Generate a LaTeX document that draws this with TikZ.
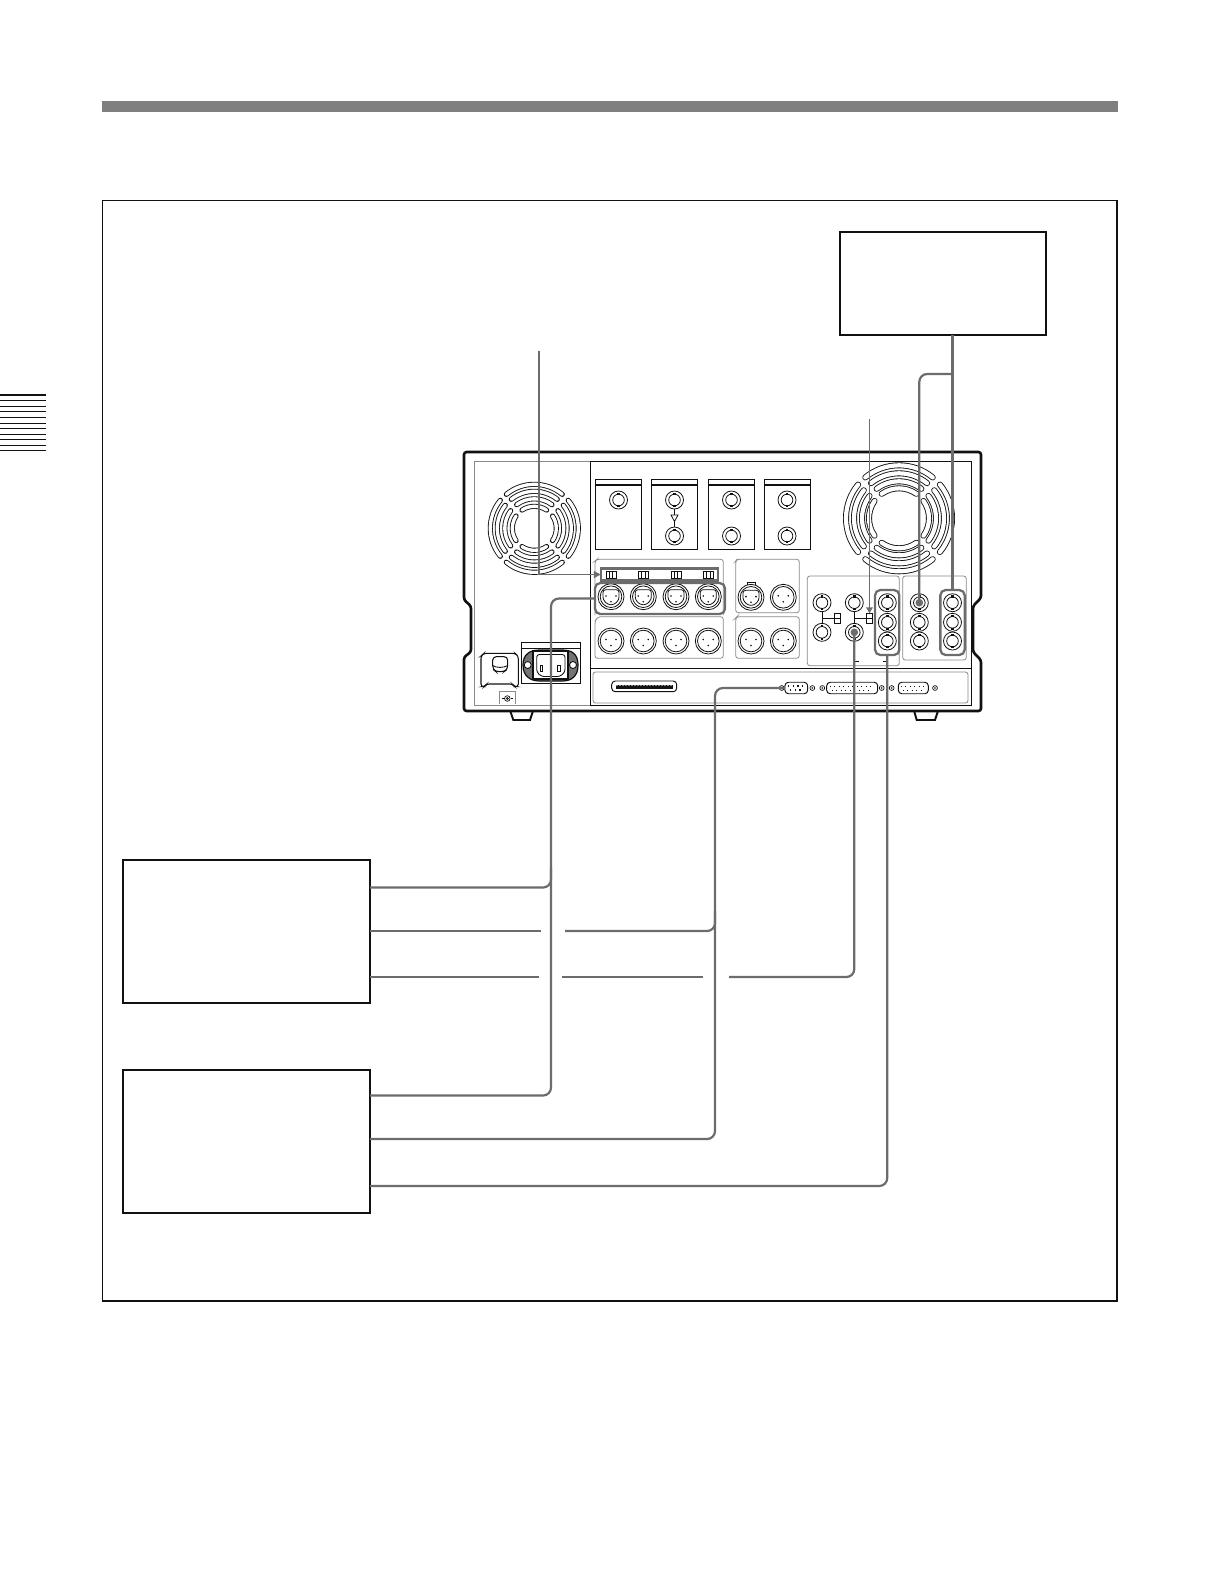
\documentclass[tikz,border=0pt]{standalone}
\usetikzlibrary{arrows.meta,positioning,calc}
\definecolor{ink}{HTML}{111111}
\definecolor{cableg}{HTML}{6C6C6C}
\definecolor{barg}{HTML}{7F7F7F}
\definecolor{panelg}{HTML}{8A8A8A}
\tikzset{
  devbox/.style={rectangle,draw=ink,line width=1.1pt,fill=white,inner sep=0pt,outer sep=0pt},
  cable/.style={draw=cableg,line width=1.25pt,rounded corners=4.5pt},
  leader/.style={draw=cableg,line width=0.85pt},
  markbox/.style={rectangle,rounded corners=3pt,draw=cableg,line width=1.3pt,inner sep=0pt,outer sep=0pt},
  panel/.style={draw=panelg,line width=0.45pt,rounded corners=1.5pt},
  bay/.style={draw=ink,line width=0.6pt,fill=white},
  part/.style={draw=ink,line width=0.45pt,fill=white},
  dsub/.style={rectangle,rounded corners=2pt,draw=ink,line width=0.55pt,fill=white,inner sep=0pt,outer sep=0pt,minimum height=0.23cm},
  slideswitch/.style={rectangle,draw=ink,line width=0.5pt,fill=white,inner sep=0pt,outer sep=0pt,minimum width=0.125cm,minimum height=0.2cm},
  bnc/.pic={
    \draw[part] (0,0) circle (9);
    \draw[part] (0,0) circle (5.8);
    \fill[ink] (-1.2,-7.4) rectangle (1.2,-5.2);
    \fill[ink] (-1.2,5.2) rectangle (1.2,7.4);
  },
  bncdark/.pic={
    \draw[part] (0,0) circle (9);
    \draw[part] (0,0) circle (5.8);
    \fill[cableg] (0,0) circle (3.8);
    \fill[ink] (-1.2,-7.4) rectangle (1.2,-5.2);
    \fill[ink] (-1.2,5.2) rectangle (1.2,7.4);
  },
  xlrmale/.pic={
    \draw[part] (0,0) circle (13);
    \draw[part] (0,0) circle (10.8);
    \fill[ink] (-5,-1.5) circle (0.9) (5,-1.5) circle (0.9) (0,4.5) circle (0.9);
  },
  xlrfemale/.pic={
    \draw[part] (-4,-11) rectangle (4,-15);
    \draw[part] (0,0) circle (13);
    \draw[part] (0,0) circle (10.8);
    \draw[part,rounded corners=1.5pt] (-8,-7) -- (8,-7) -- (8,3) -- (3,8) -- (-3,8) -- (-8,3) -- cycle;
    \fill[ink] (-5,-0.7) circle (0.9) (5,-0.7) circle (0.9) (0,5) circle (0.9);
  },
  screw/.pic={
    \draw[ink,line width=0.4pt] (0,0) circle (2.4);
    \fill[ink] (0,0) circle (0.9);
  }
}
\newcommand{\fanslots}[6]{
  \foreach \rr in {#3}{
    \pgfmathsetmacro{\hh}{45-#6/\rr}
    \foreach \aa in {0,90,180,270}{
      \draw[ink,line width=#4,line cap=round] ($(#1,#2)+(\aa-\hh:\rr)$) arc[start angle=\aa-\hh,end angle=\aa+\hh,radius=\rr];
      \draw[white,line width=#5,line cap=round] ($(#1,#2)+(\aa-\hh:\rr)$) arc[start angle=\aa-\hh,end angle=\aa+\hh,radius=\rr];
    }
  }
}
\begin{document}
\begin{tikzpicture}[x=0.02cm,y=-0.02cm]
    \useasboundingbox (0,0) rectangle (1218,1586);
    \fill[white] (0,0) rectangle (1218,1586);
    \fill[barg] (102,101) rectangle (1118,112);
    \draw[ink,line width=0.6pt] (102.5,200.5) rectangle (1117,1301);
    \foreach \yy in {395,400.3,406.3,411.3,417.3,423.3,428.3,434.3,439.3,445.3,450.3}
      \draw[ink,line width=0.8pt] (0,\yy) -- (46,\yy);

    \node[devbox,minimum width=4.12cm,minimum height=2.06cm] (monitor) at (943,283.5) {};
    \node[devbox,minimum width=4.94cm,minimum height=2.86cm] (vtrone) at (246.5,931.5) {};
    \node[devbox,minimum width=4.94cm,minimum height=2.86cm] (vtrtwo) at (246.5,1141.5) {};

    \draw[ink,line width=1.1pt,fill=white] (509.3,708) -- (513.3,720) -- (530,720) -- (534,708) -- cycle;
    \draw[ink,line width=1.1pt,fill=white] (913.3,708) -- (916.7,720) -- (935,720) -- (939,708) -- cycle;
    \draw[ink,line width=1.5pt,fill=white,rounded corners=1.5pt] (464,452) -- (981,452) -- (981,598) -- (973,606) -- (973,652) -- (981,660) -- (981,711) -- (464,711) -- (464,657) -- (471,652) -- (471,606) -- (464,600) -- cycle;
    \draw[panelg,line width=0.5pt] (474,461) rectangle (590,705);
    \draw[ink,line width=0.55pt] (590,461) -- (971,461) -- (971,705) -- (590,705) -- cycle;
    \draw[ink,line width=0.55pt] (590,668) -- (971,668);
    \draw[panel] (593,672) rectangle (968,703);

    \fanslots{534.3}{528.3}{44,37,29.5,22}{2.9pt}{1.9pt}{240}
    \fanslots{899}{518.3}{53,45,37,30}{3.4pt}{2.4pt}{290}

    \draw[bay] (595.3,479.3) rectangle (641.7,549.3);
    \draw[bay] (651.3,479.3) rectangle (697.7,549.3);
    \draw[bay] (708.3,479.3) rectangle (754.3,549.3);
    \draw[bay] (764.3,479.3) rectangle (810.7,549.3);
    \foreach \xx in {595.3,651.3,708.3,764.3}
      \draw[ink,line width=0.6pt] (\xx,485) -- ++(46.4,0);
    \foreach \xx in {618.5,674.5,731.5,787}
      \pic at (\xx,500) {bnc};
    \foreach \xx in {674.5,731.5,787}
      \pic at (\xx,536) {bnc};
    \draw[ink,line width=0.45pt] (674.5,509) -- (674.5,515) (674.5,521) -- (674.5,527);
    \draw[ink,line width=0.45pt,fill=white] (671,515) -- (678,515) -- (674.5,521.5) -- cycle;

    \draw[panel] (595,615) -- (595,561) -- (597,559.3) -- (723.3,559.3) -- (723.3,615);
    \draw[panel] (595,658.3) -- (595,621) -- (598,616.7) -- (723.3,616.7) -- (723.3,658.3) -- cycle;
    \draw[panel] (735.7,612.7) -- (735.7,561) -- (737,559.3) -- (799.3,559.3) -- (799.3,612.7) -- cycle;
    \draw[panel] (735.7,658.3) -- (735.7,618) -- (737,616.7) -- (799.3,616.7) -- (799.3,658.3) -- cycle;
    \foreach \xx in {611,643.3,676,708.3}{
      \pic at (\xx,596.7) {xlrfemale};
      \pic at (\xx,641) {xlrmale};
      \draw[part] (\xx-5,571.5) rectangle (\xx+5,578.3);
      \draw[ink,line width=0.4pt] (\xx-1.7,571.5) -- (\xx-1.7,578.3) (\xx+1.7,571.5) -- (\xx+1.7,578.3);
    }
    \pic at (751,597.3) {xlrfemale};
    \pic at (783.3,597.3) {xlrmale};
    \pic at (751,641) {xlrmale};
    \pic at (783.3,641) {xlrmale};

    \draw[panel] (807.3,576) rectangle (899.3,665.7);
    \draw[panel] (902.7,576) rectangle (966.3,660);
    \draw[ink,line width=0.45pt] (822,602.7) -- (822,632.3) (822,618.3) -- (835,618.3);
    \draw[ink,line width=0.45pt] (854.3,602.7) -- (854.3,632.3) (854.3,618.3) -- (867,618.3);
    \node[slideswitch] (termone) at (837.7,618.3) {};
    \node[slideswitch] (termtwo) at (869.5,618.3) {};
    \draw[ink,line width=0.4pt] (termone.west) -- (termone.east) (termtwo.west) -- (termtwo.east);
    \foreach \yy in {602.7,632.3}
      \pic at (822,\yy) {bnc};
    \pic at (854.3,602.7) {bnc};
    \pic at (854.3,632.3) {bncdark};
    \foreach \xx in {887.3,952.5}
      \foreach \yy in {602.7,622.3,641}
        \pic at (\xx,\yy) {bnc};
    \pic at (919.3,602.7) {bncdark};
    \pic at (919.3,622.3) {bnc};
    \pic at (919.3,641) {bnc};
    \draw[ink,line width=0.6pt] (854.3,655) -- (854.3,661.7) -- (859,661.7);
    \draw[ink,line width=0.6pt] (887.3,655) -- (887.3,661.7) -- (882.5,661.7);

    \draw[ink,line width=0.55pt,fill=white,rounded corners=2pt] (611.7,681) rectangle (676.7,691.7);
    \fill[ink] (616,684.5) rectangle (673,688.5);
    \foreach \xx in {617,620,...,671}
      \fill[white] (\xx,685.4) circle (0.6);
    \node[dsub,minimum width=0.454cm] (dnine) at (796.3,688) {};
    \node[dsub,minimum width=1.02cm] (dtwentyfive) at (852.2,688) {};
    \node[dsub,minimum width=0.6cm] (dfifteen) at (913.3,688) {};
    \draw[ink,line width=0.7pt,dotted] (788,686) -- (805,686) (790,690) -- (803,690);
    \draw[ink,line width=0.55pt,dotted] (830,686) -- (874,686) (832,690) -- (872,690);
    \draw[ink,line width=0.55pt,dotted] (901,686) -- (925,686) (903,690) -- (923,690);
    \foreach \xx in {781.7,812.3,822.3,881.7,891.7,935}
      \pic at (\xx,688) {screw};

    \draw[ink,line width=0.7pt,fill=white] (521.3,642.3) rectangle (580.7,683.3);
    \draw[ink,line width=0.7pt] (521.3,648.3) -- (580.7,648.3);
    \draw[ink,line width=0.7pt,fill=black!55] (523,665) .. controls (523,654) and (530,650) .. (540,650) -- (562,650) .. controls (572,650) and (578,654) .. (578,665) .. controls (578,676) and (572,681) .. (562,681) -- (540,681) .. controls (530,681) and (523,676) .. (523,665) -- cycle;
    \draw[ink,line width=0.5pt,fill=white] (527.7,665) circle (3.5) (573,665) circle (3.5);
    \draw[ink,line width=0.7pt,fill=white] (533,651) rectangle (568,679);
    \draw[ink,line width=0.5pt,fill=white,rounded corners=1.5pt] (536.7,654.5) -- (565,654.5) -- (565,672) -- (560,676.5) -- (541.5,676.5) -- (536.7,672) -- cycle;
    \draw[ink,line width=0.5pt] (540.2,665) rectangle (542.6,671.5) (557.6,665) rectangle (560,671.5);
    \fill[ink] (549.5,659) rectangle (551.5,665);

    \draw[ink,line width=0.6pt,fill=white,rounded corners=1.5pt] (481,686.7) -- (481,656) -- (484,653.3) -- (515,653.3) -- (518.3,656) -- (518.3,686.7) -- (514.5,686.7) -- (512.5,684) -- (486.5,684) -- (484.5,686.7) -- cycle;
    \draw[ink,line width=0.6pt,fill=white,rounded corners=2pt] (492.7,656.7) -- (507.7,656.7) -- (507.7,669) -- (504,671.7) -- (496,671.7) -- (492.7,669) -- cycle;
    \draw[ink,line width=0.5pt] (492.7,665.5) .. controls (496,668) and (504,668) .. (507.7,665.5);
    \draw[panelg,line width=0.45pt] (499.3,703.5) -- (499.3,691.7) -- (515,691.7) -- (515,703.5);
    \draw[ink,line width=0.4pt] (507.3,698.5) circle (2.8) (507.3,698.5) circle (1);
    \draw[ink,line width=0.4pt] (502,698.5) -- (504,698.5) (510.5,698.5) -- (512.5,698.5);

    \node[markbox,minimum width=2.346cm,minimum height=0.24cm,rounded corners=0pt] (switchgroup) at (659.4,574.5) {};
    \node[markbox,minimum width=2.6cm,minimum height=0.62cm] (xlrgroup) at (660,598.5) {};
    \node[markbox,minimum width=0.486cm,minimum height=1.3cm] (outgroup) at (887.2,622.5) {};
    \node[markbox,minimum width=0.486cm,minimum height=1.3cm] (ingroup) at (952.5,622.5) {};

    \coordinate (audiobus) at (551,598.5);
    \coordinate (remotebus) at (715,688);
    \coordinate (refin) at (919.3,602.7);
    \coordinate (refout) at (854.3,632.3);
    \coordinate (splitpoint) at (952.5,374);
    \coordinate (leaderone) at (539,351);
    \coordinate (leadertwo) at (869.5,419);
    \coordinate (gapa) at (541,931);
    \coordinate (gapb) at (565,931);
    \coordinate (gapc) at (539,977);
    \coordinate (gapd) at (562,977);
    \coordinate (gape) at (703,977);
    \coordinate (gapf) at (729,977);

    \draw[leader,-{Triangle[length=1.4mm,width=1.4mm]}] (leaderone) |- (switchgroup.west);
    \draw[leader,-{Triangle[length=1.2mm,width=1.3mm]}] (leadertwo) -- (termtwo.north);

    \draw[cable] (952.5,0 |- monitor.south) -- (ingroup.north);
    \draw[cable] (splitpoint) -| (refin);
    \draw[cable] (vtrone.east |- 0,887.5) -| ([yshift=0.4cm]audiobus |- 0,887.5);
    \draw[cable] (vtrtwo.east |- 0,1095.5) -| (audiobus) -- (xlrgroup.west);
    \draw[cable] (vtrone.east |- gapa) -- (gapa);
    \draw[cable] (gapb) -| ([yshift=0.4cm]remotebus |- gapb);
    \draw[cable] (vtrtwo.east |- 0,1139) -| (remotebus) -- (dnine.west);
    \draw[cable] (vtrone.east |- gapc) -- (gapc);
    \draw[cable] (gapd) -- (gape);
    \draw[cable] (gapf) -| (refout);
    \draw[cable] (vtrtwo.east |- 0,1186) -| (outgroup.south);
  \end{tikzpicture}
\end{document}
